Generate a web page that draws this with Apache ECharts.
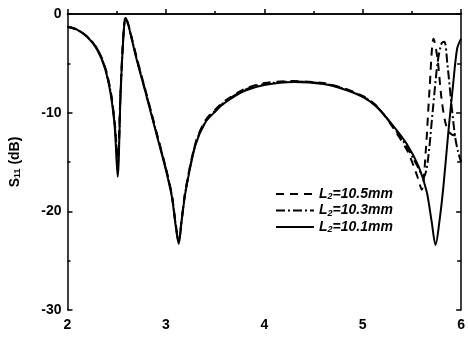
<!DOCTYPE html>
<html>
<head>
<meta charset="utf-8">
<script src="https://cdn.jsdelivr.net/npm/echarts@6/dist/echarts.min.js"></script>
<style>
  html, body { margin: 0; padding: 0; background: #fff; }
  #chart { width: 468px; height: 339px; }
</style>
</head>
<body>
<div id="chart"></div>
<script>
// 频率 (GHz) 与 S11 (dB)
const freq101 = [2.0, 2.1, 2.2, 2.3, 2.38, 2.44, 2.48, 2.51, 2.54, 2.57, 2.59, 2.62, 2.7, 2.8, 2.9, 3.0, 3.06, 3.1, 3.13, 3.16, 3.2, 3.3, 3.4, 3.5, 3.6, 3.8, 4.0, 4.3, 4.6, 4.8, 5.0, 5.14, 5.3, 5.45, 5.57, 5.65, 5.7, 5.74, 5.78, 5.82, 5.87, 5.92, 5.96, 6.0]
const s11_101 = [-1.3, -1.6, -2.3, -3.6, -5.5, -8.2, -11.5, -16.5, -8, -2, -0.4, -1.2, -4.5, -8.2, -12, -15.8, -18.5, -21.5, -23.3, -21, -18, -13.3, -11, -9.9, -9.0, -7.8, -7.2, -6.9, -7.1, -7.6, -8.4, -9.4, -11.2, -13.2, -15.5, -18, -21, -23.4, -21, -17.5, -12, -7, -3.5, -2.5]

const freq105 = [2.0, 2.1, 2.2, 2.3, 2.38, 2.44, 2.48, 2.51, 2.54, 2.57, 2.59, 2.62, 2.7, 2.8, 2.9, 3.0, 3.06, 3.1, 3.13, 3.16, 3.2, 3.3, 3.4, 3.5, 3.6, 3.8, 4.0, 4.3, 4.6, 4.8, 5.0, 5.14, 5.3, 5.45, 5.55, 5.6, 5.64, 5.68, 5.72, 5.76, 5.8, 5.84, 5.88, 5.94, 6.0]
const s11_105 = [-1.3, -1.6, -2.3, -3.5, -5.3, -7.9, -11, -14.5, -7.5, -1.8, -0.3, -1.1, -4.3, -8.0, -11.8, -15.6, -18.3, -21.3, -23.0, -20.8, -17.8, -13.1, -10.8, -9.7, -8.8, -7.6, -7.0, -6.8, -7.0, -7.5, -8.3, -9.3, -11.4, -13.8, -16.3, -17.8, -14, -7.5, -2.5, -4.5, -8.5, -11, -12, -12.3, -12]

const freq103 = [2.0, 2.1, 2.2, 2.3, 2.38, 2.44, 2.48, 2.51, 2.54, 2.57, 2.59, 2.62, 2.7, 2.8, 2.9, 3.0, 3.06, 3.1, 3.13, 3.16, 3.2, 3.3, 3.4, 3.5, 3.6, 3.8, 4.0, 4.3, 4.6, 4.8, 5.0, 5.14, 5.3, 5.45, 5.55, 5.62, 5.66, 5.71, 5.76, 5.8, 5.83, 5.86, 5.9, 5.94, 5.97, 6.0]
const s11_103 = [-1.3, -1.6, -2.3, -3.5, -5.4, -8.0, -11.2, -15.5, -7.8, -1.9, -0.4, -1.2, -4.4, -8.1, -11.9, -15.7, -18.4, -21.4, -23.1, -20.9, -17.9, -13.2, -10.9, -9.8, -8.9, -7.7, -7.1, -6.85, -7.05, -7.55, -8.35, -9.35, -11.3, -13.5, -15.3, -16.5, -15, -10, -5, -3, -2.8, -5, -9, -12.5, -14, -15]

const xTicks = [2, 3, 4, 5, 6]
const yTicks = [0, -10, -20, -30]

const names = ['105', '103', '101']
const legendText = {
  '105': '{l|L}{s|2}{t|=10.5mm}',
  '103': '{l|L}{s|2}{t|=10.3mm}',
  '101': '{l|L}{s|2}{t|=10.1mm}',
}

const pair = (xs, ys) => xs.map((x, i) => [x, ys[i]])

const FONT = '"Liberation Sans", Arial, sans-serif'
const axisLine = { show: true, lineStyle: { color: '#000', width: 1.5 } }
const tickLabel = { color: '#000', fontFamily: FONT, fontWeight: 'bold', fontSize: 14 }

const chart = echarts.init(document.getElementById('chart'))

chart.setOption({
  animation: false,
  backgroundColor: '#fff',
  grid: { left: 66, right: 4, top: 14, bottom: 29 },
  legend: {
    orient: 'vertical',
    left: 270,
    top: 182,
    itemWidth: 38,
    itemHeight: 12,
    itemGap: 2,
    data: names,
    itemStyle: { opacity: 0 },
    formatter: (n) => legendText[n],
    textStyle: {
      rich: {
        l: { fontFamily: FONT, fontWeight: 'bold', fontStyle: 'italic', fontSize: 14, color: '#000' },
        s: { fontFamily: FONT, fontWeight: 'bold', fontStyle: 'italic', fontSize: 9, color: '#000', verticalAlign: 'bottom', padding: [6, 0, 0, 0] },
        t: { fontFamily: FONT, fontWeight: 'bold', fontStyle: 'italic', fontSize: 14, color: '#000' },
      },
    },
  },
  xAxis: [
    {
      type: 'value',
      min: 2,
      max: 6,
      interval: 1,
      axisLine,
      axisTick: { inside: true, length: 5, lineStyle: { color: '#000', width: 1.5 } },
      minorTick: { show: true, splitNumber: 2, length: 3, lineStyle: { color: '#000', width: 1.5 } },
      axisLabel: { ...tickLabel, margin: 8, formatter: (v) => (xTicks.includes(v) ? String(v) : '') },
      splitLine: { show: false },
    },
    {
      type: 'value',
      position: 'top',
      min: 2,
      max: 6,
      axisLine,
      axisTick: { show: false },
      axisLabel: { show: false },
      splitLine: { show: false },
    },
  ],
  yAxis: [
    {
      type: 'value',
      min: -30,
      max: 0,
      interval: 10,
      axisLine,
      axisTick: { inside: true, length: 5, lineStyle: { color: '#000', width: 1.5 } },
      minorTick: { show: true, splitNumber: 2, length: 3, lineStyle: { color: '#000', width: 1.5 } },
      axisLabel: { ...tickLabel, margin: 6, formatter: (v) => (yTicks.includes(v) ? String(v) : '') },
      splitLine: { show: false },
      name: '{a|S}{b|11}{a| (dB)}',
      nameLocation: 'middle',
      nameGap: 45,
      nameTextStyle: {
        rich: {
          a: { fontFamily: FONT, fontWeight: 'bold', fontSize: 14, color: '#000' },
          b: { fontFamily: FONT, fontWeight: 'bold', fontSize: 9, color: '#000', verticalAlign: 'bottom', padding: [6, 0, 0, 0] },
        },
      },
    },
    {
      type: 'value',
      position: 'right',
      min: -30,
      max: 0,
      interval: 10,
      axisLine,
      axisTick: { inside: true, length: 5, lineStyle: { color: '#000', width: 1.5 } },
      minorTick: { show: true, splitNumber: 2, length: 4, lineStyle: { color: '#000', width: 1.5 } },
      axisLabel: { show: false },
      splitLine: { show: false },
    },
  ],
  series: [
    {
      name: '105',
      type: 'line',
      data: pair(freq105, s11_105),
      symbol: 'none',
      smooth: 0.3,
      lineStyle: { color: '#000', width: 2, type: [8, 6] },
      itemStyle: { color: '#000' },
    },
    {
      name: '103',
      type: 'line',
      data: pair(freq103, s11_103),
      symbol: 'none',
      smooth: 0.3,
      lineStyle: { color: '#000', width: 2, type: [9, 3, 2, 3] },
      itemStyle: { color: '#000' },
    },
    {
      name: '101',
      type: 'line',
      data: pair(freq101, s11_101),
      symbol: 'none',
      smooth: 0.3,
      lineStyle: { color: '#000', width: 2 },
      itemStyle: { color: '#000' },
    },
  ],
})
</script>
</body>
</html>
